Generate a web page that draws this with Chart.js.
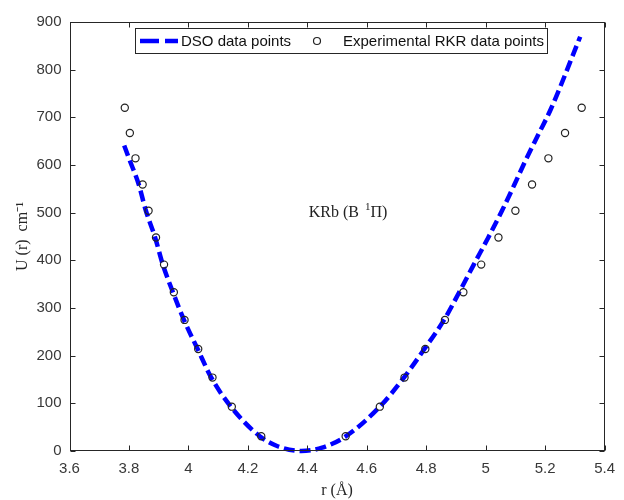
<!DOCTYPE html>
<html>
<head>
<meta charset="utf-8">
<script src="https://cdn.jsdelivr.net/npm/chart.js@4.4.1/dist/chart.umd.min.js"></script>
<style>
  html, body { margin: 0; padding: 0; background: #fff; }
  #wrap { width: 624px; height: 500px; }
</style>
</head>
<body>
<div id="wrap"><canvas id="chart" width="624" height="500"></canvas></div>
<script>
// DATA
// =============================================================================

// DSO potential curve, r in Angstrom, U in cm-1
const dsoR = [3.784, 3.800, 3.833, 3.857, 3.888, 3.914, 3.948, 3.985, 4.031, 4.077, 4.143, 4.240, 4.300, 4.380,
              4.450, 4.530, 4.644, 4.725, 4.795, 4.860, 4.911, 4.960, 5.008, 5.054, 5.096, 5.136, 5.178, 5.219, 5.318];
const dsoU = [641, 614, 559, 504, 448, 391, 333, 275, 214, 154, 93, 31, 10, 0,
              7, 31, 93, 154, 215, 275, 333, 391, 447, 503, 558, 612, 665, 717, 869];

// Experimental RKR turning points
const rkrR = [3.786, 3.803, 3.822, 3.846, 3.866, 3.891, 3.918, 3.951, 3.987, 4.033, 4.081, 4.146, 4.245,
              4.529, 4.644, 4.727, 4.797, 4.863, 4.925, 4.985, 5.043, 5.100, 5.156, 5.211, 5.267, 5.323];
const rkrU = [720, 667, 614, 559, 504, 448, 391, 333, 275, 214, 154, 93, 31,
              31, 93, 154, 214, 275, 333, 391, 448, 504, 559, 614, 667, 720];

const xTicks = [3.6, 3.8, 4, 4.2, 4.4, 4.6, 4.8, 5, 5.2, 5.4];
const yTicks = [0, 100, 200, 300, 400, 500, 600, 700, 800, 900];

const seriesNames = ['DSO data points', 'Experimental RKR data points'];

// =============================================================================
// STYLE
// =============================================================================

const AXIS_COLOR = '#262626';
const TICK_TEXT = '#383838';
const LINE_BLUE = '#0000ff';
const SANS = '"Liberation Sans", Arial, sans-serif';
const SERIF = '"Liberation Serif", "Times New Roman", serif';

const toXY = (xs, ys) => xs.map((v, i) => ({ x: v, y: ys[i] }));

/**
 * Draws the MATLAB style box, inward ticks, legend and the text label
 */
const framePlugin = {
  id: 'frame',
  afterDraw(chart) {
    const { ctx, chartArea: a, scales: { x, y } } = chart;
    const L = Math.round(a.left) + 0.5, R = Math.round(a.right) - 0.5;
    const T = Math.round(a.top) + 0.5, B = Math.round(a.bottom) - 0.5;
    const tl = 5;

    ctx.save();
    ctx.strokeStyle = AXIS_COLOR;
    ctx.lineWidth = 1;
    ctx.strokeRect(L, T, R - L, B - T);

    // inward ticks on all four sides
    ctx.beginPath();
    xTicks.forEach(v => {
      const px = Math.round(x.getPixelForValue(v)) + 0.5;
      ctx.moveTo(px, B); ctx.lineTo(px, B - tl);
      ctx.moveTo(px, T); ctx.lineTo(px, T + tl);
    });
    yTicks.forEach(v => {
      const py = Math.round(y.getPixelForValue(v)) + 0.5;
      ctx.moveTo(L, py); ctx.lineTo(L + tl, py);
      ctx.moveTo(R, py); ctx.lineTo(R - tl, py);
    });
    ctx.stroke();

    // label inside the plot
    ctx.fillStyle = '#222';
    ctx.textBaseline = 'middle';
    ctx.textAlign = 'left';
    let tx = x.getPixelForValue(4.405);
    const ty = y.getPixelForValue(499);
    ctx.font = '16px ' + SERIF;
    ctx.fillText('KRb (B ', tx, ty);
    tx += ctx.measureText('KRb (B ').width + 2;
    ctx.font = '11px ' + SERIF;
    ctx.fillText('1', tx, ty - 6);
    tx += ctx.measureText('1').width;
    ctx.font = '16px ' + SERIF;
    ctx.fillText('\u03A0)', tx, ty);

    // legend box
    const bx = 135.5, by = 28.5, bw = 412, bh = 25;
    const cy = by + bh / 2;
    ctx.fillStyle = '#fff';
    ctx.fillRect(bx, by, bw, bh);
    ctx.strokeStyle = AXIS_COLOR;
    ctx.lineWidth = 1;
    ctx.strokeRect(bx, by, bw, bh);

    ctx.strokeStyle = LINE_BLUE;
    ctx.lineWidth = 4.5;
    ctx.beginPath();
    ctx.moveTo(140, cy); ctx.lineTo(159, cy);
    ctx.moveTo(165, cy); ctx.lineTo(178, cy);
    ctx.stroke();

    ctx.strokeStyle = '#222';
    ctx.lineWidth = 1.2;
    ctx.beginPath();
    ctx.arc(317, cy, 3.5, 0, Math.PI * 2);
    ctx.stroke();

    ctx.fillStyle = '#111';
    ctx.font = '15px ' + SANS;
    ctx.fillText(seriesNames[0], 181, cy + 1);
    ctx.fillText(seriesNames[1], 343, cy + 1);
    ctx.restore();
  }
};

const canvas = document.getElementById('chart');

new Chart(canvas.getContext('2d'), {
  type: 'line',
  data: {
    datasets: [
      {
        label: seriesNames[0],
        data: toXY(dsoR, dsoU),
        borderColor: LINE_BLUE,
        borderWidth: 4.5,
        borderDash: [11, 5],
        borderCapStyle: 'butt',
        pointRadius: 0,
        cubicInterpolationMode: 'monotone',
        fill: false,
        clip: false,
        order: 1
      },
      {
        label: seriesNames[1],
        data: toXY(rkrR, rkrU),
        showLine: false,
        pointStyle: 'circle',
        pointRadius: 3.6,
        pointBorderWidth: 1.2,
        pointBorderColor: '#222',
        pointBackgroundColor: 'rgba(0,0,0,0)',
        clip: false,
        order: 0
      }
    ]
  },
  options: {
    responsive: false,
    animation: false,
    events: [],
    layout: { padding: { top: 22, right: 9, left: 0, bottom: 0 } },
    plugins: {
      legend: { display: false },
      tooltip: { enabled: false }
    },
    scales: {
      x: {
        type: 'linear',
        min: 3.6,
        max: 5.4,
        afterBuildTicks: s => { s.ticks = xTicks.map(v => ({ value: v })); },
        afterFit: s => { s.height = 49; },
        grid: { display: false, drawTicks: false },
        border: { display: false },
        ticks: {
          padding: 9,
          color: TICK_TEXT,
          font: { family: SANS, size: 15 },
          maxRotation: 0,
          callback: v => String(v)
        },
        title: {
          display: true,
          text: 'r (\u00C5)',
          color: AXIS_COLOR,
          font: { family: SERIF, size: 16 },
          padding: { top: 0, bottom: 0 }
        }
      },
      y: {
        type: 'linear',
        min: 0,
        max: 900,
        afterBuildTicks: s => { s.ticks = yTicks.map(v => ({ value: v })); },
        afterFit: s => { s.width = 69.5; },
        grid: { display: false, drawTicks: false },
        border: { display: false },
        ticks: {
          padding: 8,
          color: TICK_TEXT,
          font: { family: SANS, size: 15 },
          callback: v => String(v)
        },
        title: {
          display: true,
          text: 'U (r)  cm\u207B\u00B9',
          color: AXIS_COLOR,
          font: { family: SERIF, size: 16 },
          padding: { top: 13, bottom: 0 }
        }
      }
    }
  },
  plugins: [framePlugin]
});
</script>
</body>
</html>
